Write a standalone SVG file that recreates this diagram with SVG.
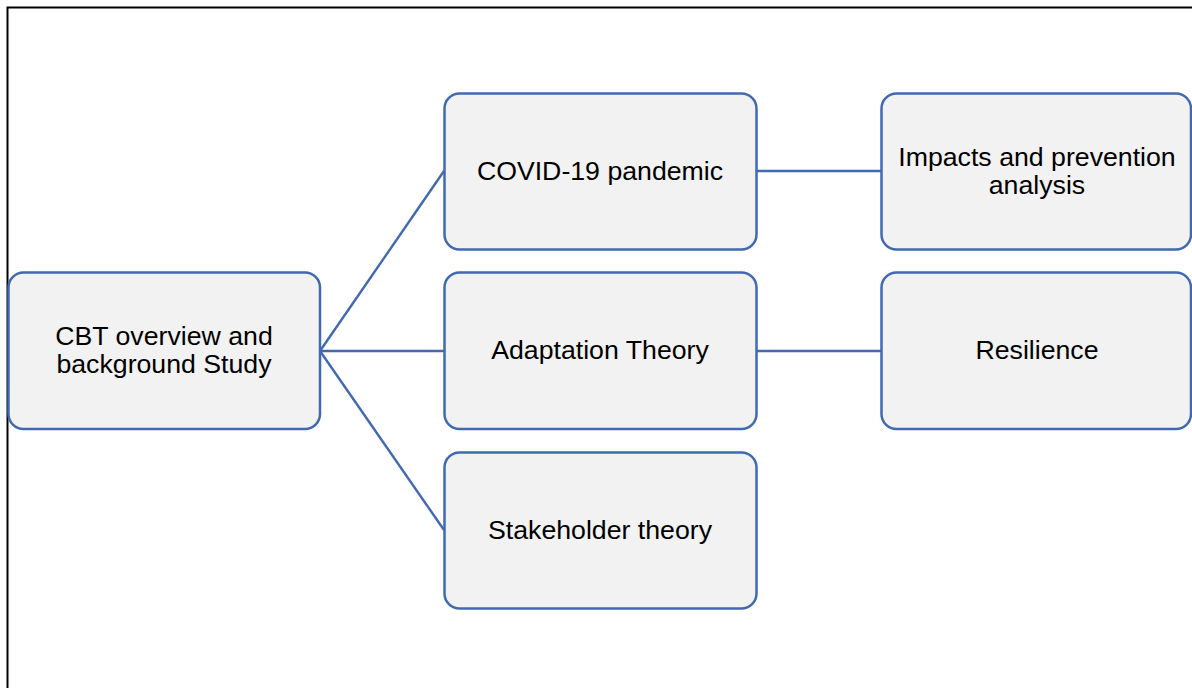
<svg xmlns="http://www.w3.org/2000/svg" width="1192" height="688" viewBox="0 0 1192 688">
<style>
.box{fill:#F2F2F2;stroke:#4169B0;stroke-width:2.5}
.t{font-family:"Liberation Sans",Arial,sans-serif;font-size:26.7px;fill:#000;text-anchor:middle}
.c{stroke:#4169B0;stroke-width:2.4;fill:none}
</style>
<rect x="0" y="0" width="1192" height="688" fill="#fff"/>
<path d="M7.5 688 V7.5 H1192" fill="none" stroke="#000" stroke-width="2"/>
<g id="connectors">
<line class="c" x1="320" y1="351" x2="444" y2="171"/>
<line class="c" x1="320" y1="351" x2="444" y2="351"/>
<line class="c" x1="320" y1="351" x2="444" y2="530"/>
<line class="c" x1="757" y1="171" x2="881" y2="171"/>
<line class="c" x1="757" y1="351" x2="881" y2="351"/>
</g>
<g id="n-cbt"><rect class="box" x="8.5" y="272.5" width="311.5" height="156.5" rx="15"/>
<text class="t" x="164" y="345">CBT overview and</text><text class="t" x="164" y="373">background Study</text></g>
<g id="n-covid"><rect class="box" x="444.5" y="93.5" width="312" height="156" rx="15"/>
<text class="t" x="600" y="180">COVID-19 pandemic</text></g>
<g id="n-adapt"><rect class="box" x="444.5" y="272.5" width="312" height="156.5" rx="15"/>
<text class="t" x="600" y="359">Adaptation Theory</text></g>
<g id="n-stake"><rect class="box" x="444.5" y="452.5" width="312" height="156" rx="15"/>
<text class="t" x="600" y="539">Stakeholder theory</text></g>
<g id="n-impacts"><rect class="box" x="881.5" y="93.5" width="309.5" height="156" rx="15"/>
<text class="t" x="1037" y="166">Impacts and prevention</text><text class="t" x="1037" y="194">analysis</text></g>
<g id="n-resil"><rect class="box" x="881.5" y="272.5" width="309.5" height="156.5" rx="15"/>
<text class="t" x="1037" y="359">Resilience</text></g>
</svg>
